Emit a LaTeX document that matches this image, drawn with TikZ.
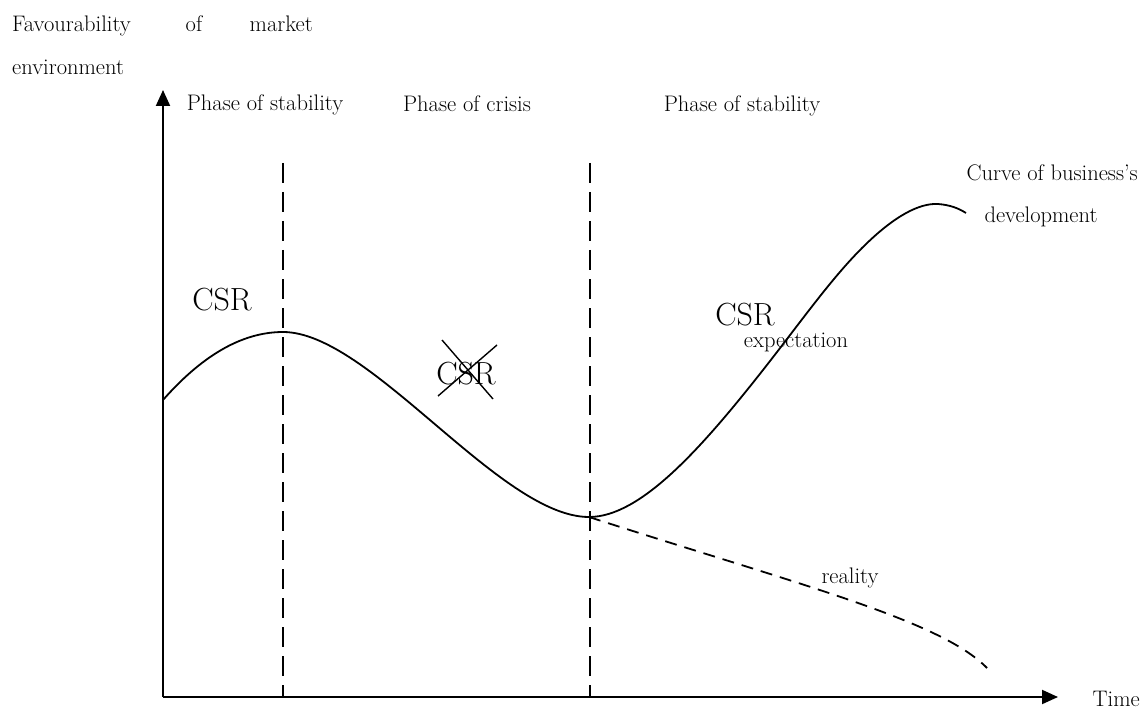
\documentclass[tikz,border=0pt]{standalone}
\usetikzlibrary{arrows.meta}
\begin{document}
\begin{tikzpicture}[x=1pt,y=-1pt,
  txt/.style={font=\fontsize{22.5}{27}\selectfont, inner sep=0pt, anchor=base},
  big/.style={font=\fontsize{32}{38}\selectfont, inner sep=0pt, anchor=base},
  axis/.style={line width=2pt, -{Triangle[width=14pt,length=16pt]}},
  phase/.style={line width=1.6pt, dash pattern=on 20pt off 9pt},
  curve/.style={line width=1.8pt, line join=round},
  real/.style={line width=1.8pt, dash pattern=on 12pt off 8pt},
  cross/.style={line width=1.4pt}]
\useasboundingbox (0,0) rectangle (1142,711);
% axes
\coordinate (O) at (163,697);
\coordinate (ytip) at (163,90);
\coordinate (xtip) at (1058,697);
\draw[axis] (O) -- (ytip);
\draw[axis] (O) -- (xtip);
% phase separators
\coordinate (p1top) at (283,163);
\coordinate (p1bot) at (283,697);
\coordinate (p2top) at (590,163);
\coordinate (p2bot) at (590,697);
\draw[phase] (p1top) -- (p1bot);
\draw[phase] (p2top) -- (p2bot);
% business curve
\coordinate (start) at (163,400);
\coordinate (peak) at (283,332);
\coordinate (trough) at (589,517);
\coordinate (m1) at (763,370);
\coordinate (m2) at (862,248);
\coordinate (top) at (938,204);
\coordinate (cend) at (966,213);
\draw[curve] (start) .. controls (200,358) and (240,332) .. (peak)
  .. controls (370,332) and (500,517) .. (trough)
  .. controls (640,517) and (700,450) .. (m1)
  .. controls (800,323) and (830,280) .. (m2)
  .. controls (895,215) and (920,203) .. (top)
  .. controls (950,205) and (958,208) .. (cend);
% reality
\coordinate (rend) at (987,668);
\draw[real] (trough) .. controls (800,585) and (940,620) .. (rend);
% labels
\node[txt, anchor=base west] (fav) at (12,32) {Favourability};
\node[txt] (of) at (194,32) {of};
\node[txt, anchor=base east] (mkt) at (313,32) {market};
\node[txt, anchor=base west] (env) at (12,75) {environment};
\node[txt] (ph1) at (265,111) {Phase of stability};
\node[txt] (ph2) at (467,112) {Phase of crisis};
\node[txt] (ph3) at (742,112) {Phase of stability};
\node[txt, anchor=base east] (cur1) at (1138,181) {Curve of business's};
\node[txt] (cur2) at (1041,223) {development};
\node[big] (csr1) at (222,310) {CSR};
\node[big] (csr2) at (466,384) {CSR};
\node[big] (csr3) at (745,325) {CSR};
\node[txt] (exp) at (796,347) {expectation};
\node[txt] (rea) at (850,583) {reality};
\node[txt, anchor=base east] (time) at (1140,706) {Time};
% cross over CSR
\coordinate (c1a) at (442,340);
\coordinate (c1b) at (493,399);
\coordinate (c2a) at (497,345);
\coordinate (c2b) at (438,396);
\draw[cross] (c1a) -- (c1b);
\draw[cross] (c2a) -- (c2b);
\end{tikzpicture}
\end{document}
